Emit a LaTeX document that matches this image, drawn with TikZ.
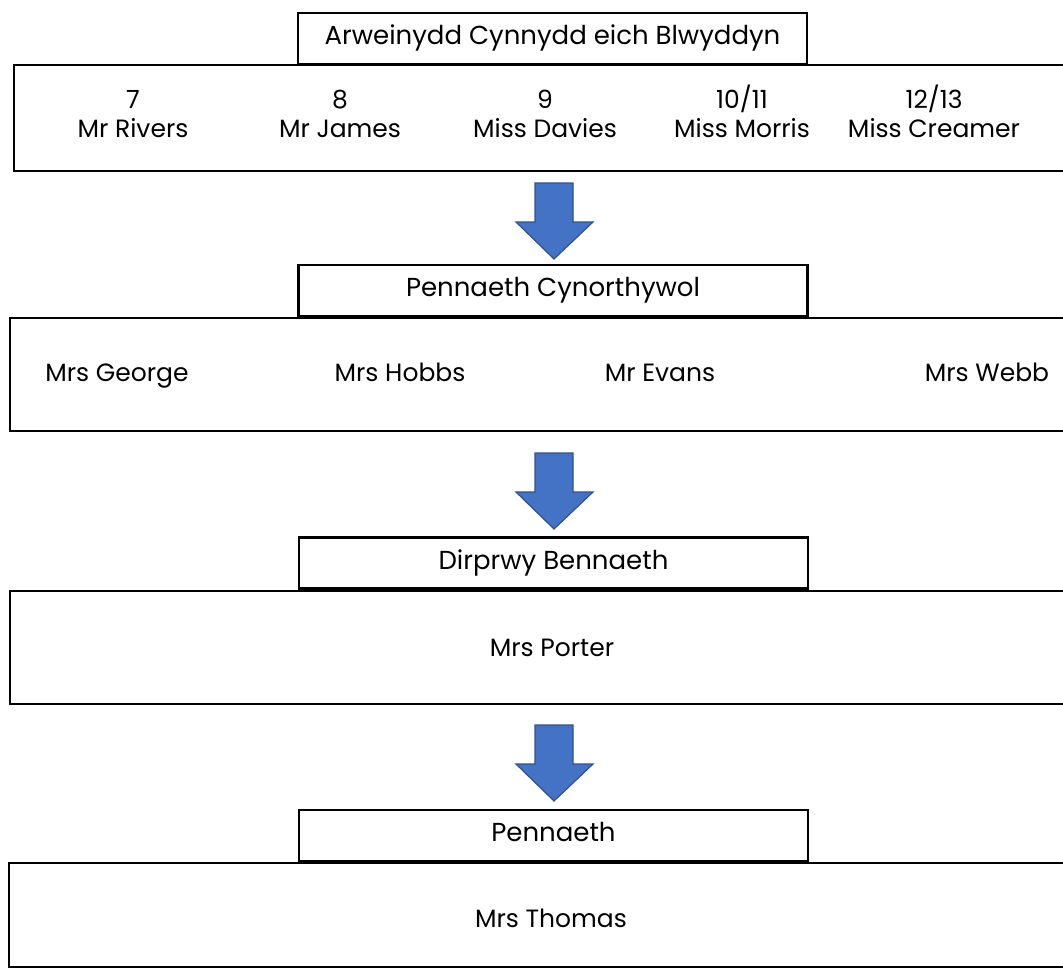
\documentclass[tikz,border=0pt]{standalone}
\usepackage{fontspec}
\setmainfont{Poppins}
\usetikzlibrary{positioning}
\definecolor{arrowblue}{HTML}{4472C4}
\definecolor{arrowedge}{HTML}{2F528F}

\begin{document}
\begin{tikzpicture}[x=1pt,y=-1pt,
  bigbox/.style={draw, line width=2pt, anchor=north west, minimum width=1070pt, inner sep=0pt},
  titlebox/.style={draw, line width=2.6pt, fill=white, minimum width=509pt, minimum height=51pt,
    inner sep=0pt, text height=18pt, text depth=6pt, font=\fontsize{26}{30}\selectfont},
  label/.style={font=\fontsize{25}{29}\selectfont, align=center, inner sep=0pt,
    text height=18pt, text depth=6pt},
  blockarrow/.style={fill=arrowblue, draw=arrowedge, line width=1.2pt, line join=miter}]
\useasboundingbox (0,0) rectangle (1063,971);
\clip (0,0) rectangle (1063,971);

% big boxes
\node[bigbox, minimum height=106pt] (yearbox) at (13,64) {};
\node[bigbox, minimum height=113pt] (assistbox) at (9,317) {};
\node[bigbox, minimum height=113pt] (deputybox) at (9,590) {};
\node[bigbox, minimum height=104pt] (headbox) at (8,862) {};

% title boxes
\node[titlebox] (lead) at (552.5,38.5) {Arweinydd Cynnydd eich Blwyddyn};
\node[titlebox] (assist) at (553,290.5) {Pennaeth Cynorthywol};
\node[titlebox] (deputy) at (553.5,563) {Dirprwy Bennaeth};
\node[titlebox] (head) at (553.5,835.5) {Pennaeth};

% year leaders
\node[label] (y7) at (133,132) {7\\Mr Rivers};
\node[label] (y8) at (340,132) {8\\Mr James};
\node[label] (y9) at (545,132) {9\\Miss Davies};
\node[label] (y10) at (742,132) {10/11\\Miss Morris};
\node[label] (y12) at (934,132) {12/13\\Miss Creamer};

% assistant heads
\node[label] (george) at (117,375) {Mrs George};
\node[label] (hobbs) at (400,375) {Mrs Hobbs};
\node[label] (evans) at (660,375) {Mr Evans};
\node[label] (webb) at (987,375) {Mrs Webb};

% deputy and head
\node[label] (porter) at (552,650) {Mrs Porter};
\node[label] (thomas) at (551,921) {Mrs Thomas};

% block arrows
\foreach \t in {183,453,725} {
  \draw[blockarrow] (535,\t) -- (573,\t) -- (573,\t+39) -- (593,\t+39)
    -- (554,\t+76) -- (516,\t+39) -- (535,\t+39) -- cycle;
}
\end{tikzpicture}
\end{document}
